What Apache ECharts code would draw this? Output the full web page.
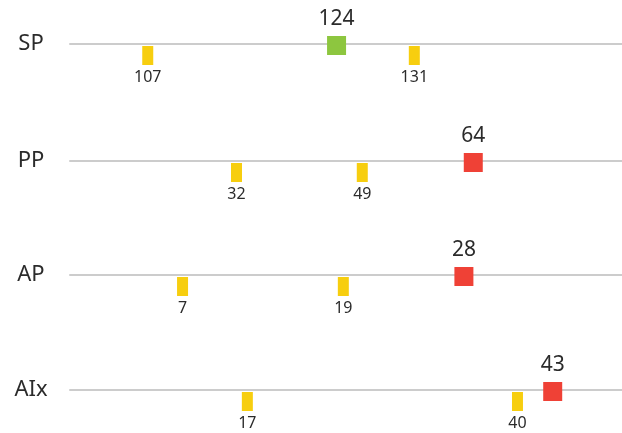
<!DOCTYPE html>
<html>
<head>
<meta charset="utf-8">
<script src="https://cdn.jsdelivr.net/npm/echarts@6/dist/echarts.min.js"></script>
<style>
  html, body { margin: 0; padding: 0; background: #fff; }
  #chart { width: 622px; height: 433px; }
</style>
</head>
<body>
<div id="chart"></div>
<script>
// row names, top to bottom
const rows = ['SP', 'PP', 'AP', 'AIx']
// yellow reference markers under each line
const refValues = [
  [107, 131],
  [32, 49],
  [7, 19],
  [17, 40]
]
// measured value, drawn as the square
const values = [124, 64, 28, 43]
const status = ['normal', 'high', 'high', 'high']

// each row has its own scale
const xRanges = [
  [100, 149.7],
  [9.5, 84.1],
  [-1.4, 39.8],
  [1.9, 48.9]
]
const lineY = [44, 161, 275, 390]

const font = 'Noto Sans'
const textColor = '#2b2b2b'
const statusColor = { normal: '#8dc63f', high: '#ef4136' }

const chart = echarts.init(document.getElementById('chart'))

const grid = []
const xAxis = []
const yAxis = []
const series = []

rows.forEach((name, i) => {
  grid.push({ left: 70, right: 0, top: lineY[i] - 20, height: 40 })
  xAxis.push({
    type: 'value',
    gridIndex: i,
    min: xRanges[i][0],
    max: xRanges[i][1],
    axisLine: { show: true, onZero: true, lineStyle: { color: '#cccccc', width: 2 } },
    axisTick: { show: false },
    axisLabel: { show: false },
    splitLine: { show: false }
  })
  yAxis.push({
    type: 'value',
    gridIndex: i,
    min: -1,
    max: 1,
    interval: 1,
    axisLine: { show: false },
    axisTick: { show: false },
    splitLine: { show: false },
    axisLabel: {
      margin: 39,
      align: 'center',
      fontFamily: font,
      fontSize: 22,
      color: textColor,
      formatter: (v) => (v === 0 ? name : '')
    }
  })
  series.push({
    type: 'scatter',
    xAxisIndex: i,
    yAxisIndex: i,
    clip: false,
    symbol: 'rect',
    symbolSize: [11, 19],
    symbolOffset: [0, 11.5],
    itemStyle: { color: '#f7ce0f', opacity: 1 },
    label: {
      show: true,
      position: 'bottom',
      distance: 4,
      fontFamily: font,
      fontSize: 16,
      color: textColor,
      formatter: (p) => p.value[0]
    },
    data: refValues[i].map((v) => [v, 0])
  })
  series.push({
    type: 'scatter',
    xAxisIndex: i,
    yAxisIndex: i,
    clip: false,
    symbol: 'rect',
    symbolSize: 19,
    symbolOffset: [0, 1.5],
    itemStyle: { color: statusColor[status[i]], opacity: 1 },
    label: {
      show: true,
      position: 'top',
      distance: 6,
      fontFamily: font,
      fontSize: 21,
      color: textColor,
      formatter: (p) => p.value[0]
    },
    data: [[values[i], 0]]
  })
})

chart.setOption({
  animation: false,
  grid,
  xAxis,
  yAxis,
  series
})
</script>
</body>
</html>
